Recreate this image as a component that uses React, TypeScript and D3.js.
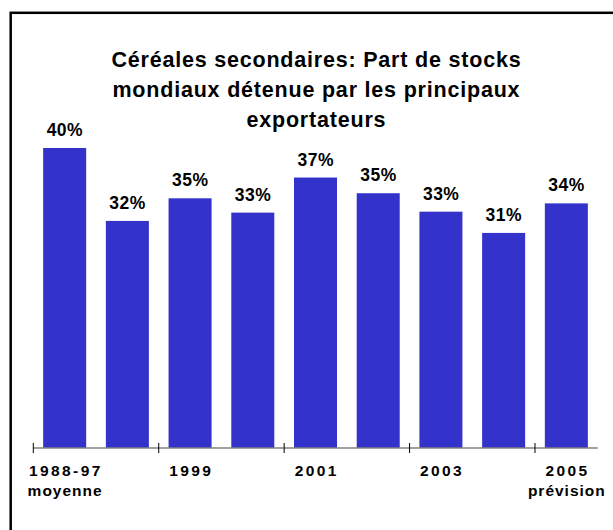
import * as d3 from "d3";

const categories = ["1988-97", "1998", "1999", "2000", "2001", "2002", "2003", "2004", "2005"];
const shares = [0.4, 0.321, 0.3455, 0.33, 0.368, 0.351, 0.331, 0.308, 0.34];
const yearLabels = ["1988-97", "", "1999", "", "2001", "", "2003", "", "2005"];
const subLabels = ["moyenne", "", "", "", "", "", "", "", "prévision"];
const titleLines = [
  "Céréales secondaires: Part de stocks",
  "mondiaux détenue par les principaux",
  "exportateurs",
];

const W = 613;
const H = 530;
const FONT = "Arial, 'Liberation Sans', sans-serif";

export default function App() {
  // band scale, ticks sit on every other band boundary
  const x = d3.scaleBand().domain(categories).range([33.3, 597.7]).padding(0);
  const barW = x.bandwidth() * 0.686;

  // the value axis is hidden; it does not start at zero
  const y = d3.scaleLinear().domain([0.075, 0.4]).range([448, 148]);
  const pct = d3.format(".0%");

  const tickCats = categories.filter((_, i) => i % 2 === 0);

  return (
    <svg
      width={W}
      height={H}
      style={{ position: "absolute", left: 0, top: 0, background: "white" }}
    >
      <rect x={0} y={0} width={W} height={H} fill="white" />
      <rect x={10.7} y={12.8} width={700} height={600} fill="none" stroke="black" strokeWidth={2.5} />

      {/* title */}
      <g fontFamily={FONT} fontWeight="bold" fontSize={21.5} letterSpacing={0.8} textAnchor="middle">
        {titleLines.map((t, i) => (
          <text key={i} x={316 + 0.4} y={67 + i * 30} fill="black">
            {t}
          </text>
        ))}
      </g>

      {/* bars */}
      <g fill="#3333CC">
        {categories.map((c, i) => (
          <rect
            key={c}
            x={x(c)! + (x.bandwidth() - barW) / 2}
            y={y(shares[i])}
            width={barW}
            height={y(0.075) - y(shares[i])}
          />
        ))}
      </g>

      {/* value labels */}
      <g fontFamily={FONT} fontWeight="bold" fontSize={17.5} letterSpacing={0.5} textAnchor="middle">
        {categories.map((c, i) => (
          <text key={c} x={x(c)! + x.bandwidth() / 2 + 0.25} y={y(shares[i]) - 12} fill="black">
            {pct(shares[i])}
          </text>
        ))}
      </g>

      {/* category axis */}
      <line x1={33.3} x2={597.7} y1={448} y2={448} stroke="#808080" strokeWidth={1.5} />
      {tickCats.map((c) => (
        <line key={c} x1={x(c)!} x2={x(c)!} y1={443} y2={453} stroke="black" strokeWidth={1} />
      ))}
      <g fontFamily={FONT} fontWeight="bold" fontSize={15.5} textAnchor="middle" fill="black">
        {categories.map((c, i) => (
          <g key={c}>
            {yearLabels[i] && (
              <text x={x(c)! + x.bandwidth() / 2 + 1.2} y={475.5} letterSpacing={2.4}>
                {yearLabels[i]}
              </text>
            )}
            {subLabels[i] && (
              <text x={x(c)! + x.bandwidth() / 2 + 0.5} y={496} letterSpacing={1}>
                {subLabels[i]}
              </text>
            )}
          </g>
        ))}
      </g>
    </svg>
  );
}
